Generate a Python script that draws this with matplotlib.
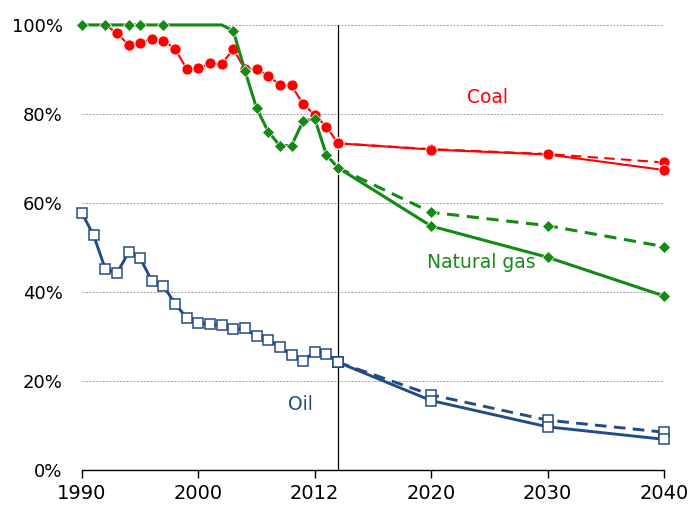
import numpy as np
import matplotlib
matplotlib.use("Agg")
import matplotlib.pyplot as plt

# historical series (share, %)
hist_years = list(range(1990, 2013))
oil_hist = [57.7, 52.7, 45.2, 44.2, 48.9, 47.6, 42.5, 41.4, 37.3, 34.2, 33.1, 32.7,
            32.5, 31.7, 31.8, 30.0, 29.3, 27.7, 25.8, 24.5, 26.6, 26.1, 24.2]
gas_hist = [100, 100, 100, 100, 100, 100, 100, 100, 100, 100, 100, 100,
            100, 98.7, 89.7, 81.3, 76.0, 72.9, 72.9, 78.4, 78.9, 70.8, 67.9]
gas_marks = [0, 2, 4, 5, 7] + list(range(13, 23))
coal_years = list(range(1992, 2013))
coal_hist = [100, 98.2, 95.5, 96.0, 96.9, 96.5, 94.6, 90.1, 90.3, 91.4, 91.2, 94.6,
             90.0, 90.1, 88.6, 86.5, 86.4, 82.2, 79.8, 77.1, 73.4]

# projections
proj_years = [2012, 2020, 2030, 2040]
coal_a = [73.4, 72.0, 70.9, 67.4]
coal_b = [73.4, 72.1, 71.0, 69.1]
gas_a = [67.9, 54.8, 47.8, 39.1]
gas_b = [67.9, 57.9, 54.9, 50.2]
oil_a = [24.2, 15.6, 9.7, 6.9]
oil_b = [24.2, 16.9, 11.2, 8.5]

xticks = [1990, 2000, 2010, 2020, 2030, 2040]
xtick_labels = ["1990", "2000", "2012", "2020", "2030", "2040"]
yticks = [0, 20, 40, 60, 80, 100]

RED = "#ff0000"
GREEN = "#138a13"
NAVY = "#234b85"

fig = plt.figure(figsize=(6.89, 5.09), dpi=100)
ax = fig.add_axes([0.119, 0.0766, 0.8447, 0.8744])

for y in yticks[1:]:
    ax.axhline(y, color="#a0a0a0", lw=0.7, ls=(0, (2, 1.5)), zorder=0)
ax.axvline(2012, color="black", lw=0.9, zorder=1)

# coal
ax.plot(proj_years, coal_b, color=RED, lw=1.5, ls=(0, (5, 3)), marker="o", ms=8,
        mec="white", mew=0.6, zorder=3, clip_on=False)
ax.plot(proj_years, coal_a, color=RED, lw=1.5, marker="o", ms=8,
        mec="white", mew=0.6, zorder=3, clip_on=False)
ax.plot(coal_years, coal_hist, color=RED, lw=1.5, marker="o", ms=8,
        mec="white", mew=0.6, markevery=list(range(1, len(coal_years))), zorder=3)

# natural gas
ax.plot(proj_years, gas_b, color=GREEN, lw=2.2, ls=(0, (4, 2.5)), marker="D", ms=6,
        mec="white", mew=0.5, zorder=4, clip_on=False)
ax.plot(proj_years, gas_a, color=GREEN, lw=2.2, marker="D", ms=6,
        mec="white", mew=0.5, zorder=4, clip_on=False)
ax.plot(hist_years, gas_hist, color=GREEN, lw=2.2, marker="D", ms=6,
        mec="white", mew=0.5, markevery=gas_marks, zorder=4, clip_on=False)

# oil
ax.plot(proj_years, oil_b, color=NAVY, lw=2.1, ls=(0, (4, 2.5)), marker="s", ms=7,
        mfc="white", mec=NAVY, mew=1.1, zorder=5, clip_on=False)
ax.plot(proj_years, oil_a, color=NAVY, lw=2.1, marker="s", ms=7,
        mfc="white", mec=NAVY, mew=1.1, zorder=5, clip_on=False)
ax.plot(hist_years, oil_hist, color=NAVY, lw=2.1, marker="s", ms=7,
        mfc="white", mec=NAVY, mew=1.1, zorder=5, clip_on=False)

ax.text(2024.8, 83.6, "Coal", color=RED, fontsize=13.5, ha="center", va="center")
ax.text(2024.3, 46.7, "Natural gas", color=GREEN, fontsize=13.5, ha="center", va="center")
ax.text(2008.8, 14.8, "Oil", color=NAVY, fontsize=13.5, ha="center", va="center")

ax.set_xlim(1990, 2040)
ax.set_ylim(0, 100)
ax.set_xticks(xticks)
ax.set_xticklabels(xtick_labels, fontsize=14)
ax.set_yticks(yticks)
ax.set_yticklabels([f"{v}%" for v in yticks], fontsize=13)
ax.tick_params(axis="y", length=0, pad=14)
ax.tick_params(axis="x", direction="out", length=6, width=1, pad=4)
for s in ["top", "right", "left"]:
    ax.spines[s].set_visible(False)
ax.spines["bottom"].set_linewidth(1)

fig.savefig("out.png", dpi=100)
